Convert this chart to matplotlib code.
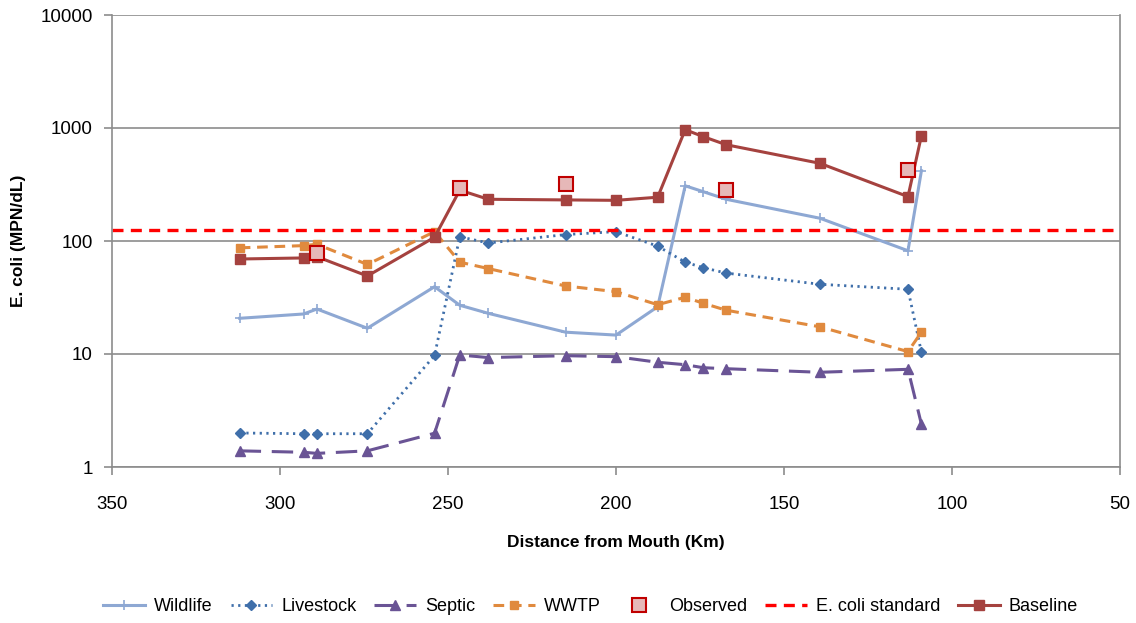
import matplotlib.pyplot as plt
from matplotlib.ticker import FixedLocator, NullLocator

# distance from mouth of each model node (km)
distance = [312, 293, 289, 274, 254, 246.5, 238, 215, 200, 187.6, 179.4, 174, 167.2, 139.3, 113.1, 109.1]

# E. coli by source (MPN/dL)
wildlife = [20.7, 22.6, 25.0, 16.9, 39.4, 27.0, 22.9, 15.6, 14.7, 26.2, 308, 273, 234, 159, 82, 419]
livestock = [2.0, 1.97, 1.97, 1.97, 9.7, 109, 96, 114, 121, 90, 65, 58, 52, 41.4, 37.4, 10.35]
septic = [1.39, 1.35, 1.32, 1.39, 1.99, 9.8, 9.3, 9.66, 9.47, 8.45, 8.04, 7.56, 7.41, 6.89, 7.32, 2.39]
wwtp = [87, 91, 93.5, 62, 121, 65, 57, 40, 35.6, 27.3, 31.8, 28.1, 24.4, 17.4, 10.5, 15.6]
baseline = [69.3, 70.8, 72.6, 49.0, 108, 282, 234, 231, 229, 244, 966, 838, 711, 487, 247, 855]

# observed samples
obs_distance = [289.1, 246.5, 215, 167.2, 113.1]
observed = [78, 296, 319, 281, 425]

ecoli_standard = 126

plt.rcParams['font.family'] = ['Liberation Sans', 'DejaVu Sans']

fig = plt.figure(figsize=(11.36, 6.23), dpi=100)
ax = fig.add_axes([112 / 1136, 1 - 467 / 623, 1008 / 1136, 452 / 623])

ax.plot(distance, wildlife, color='#8EA8D3', lw=2.2, marker='+', ms=7, mew=1.2, label='Wildlife')
ax.plot(distance, livestock, color='#3F6FAA', lw=2.0, ls=(0, (0.8, 1.6)), marker='D', ms=5,
        label='Livestock')
ax.plot(distance, septic, color='#6A5495', lw=2.2, ls=(0, (7, 3.5)), marker='^', ms=7, label='Septic')
ax.plot(distance, wwtp, color='#E08A3E', lw=2.2, ls=(0, (3.5, 2.2)), marker='s', ms=6, label='WWTP')
ax.plot(obs_distance, observed, ls='none', marker='s', ms=10, mfc='#E6B8B8', mec='#C00000', mew=1.5,
        label='Observed', zorder=5)
ax.axhline(ecoli_standard, color='#FF0000', lw=2.4, ls=(0, (3.3, 2.2)), label='E. coli standard')
ax.plot(distance, baseline, color='#A5423F', lw=2.2, marker='s', ms=7.5, label='Baseline')

ax.set_yscale('log')
ax.set_ylim(1, 10000)
ax.set_xlim(350, 50)
ax.yaxis.set_major_locator(FixedLocator([1, 10, 100, 1000, 10000]))
ax.yaxis.set_minor_locator(NullLocator())
ax.set_yticklabels(['1', '10', '100', '1000', '10000'])
ax.set_xticks([350, 300, 250, 200, 150, 100, 50])

ax.grid(axis='y', color='#8C8C8C', lw=1.2)
ax.set_axisbelow(True)
for side in ['left', 'bottom', 'right', 'top']:
    ax.spines[side].set_color('#8C8C8C')
    ax.spines[side].set_linewidth(1.2)
ax.spines['top'].set_visible(False)
ax.tick_params(axis='both', colors='#8C8C8C', labelcolor='black', labelsize=13.5, length=6, width=1.2)
ax.tick_params(axis='x', pad=15)
ax.tick_params(axis='y', pad=8)

ax.set_xlabel('Distance from Mouth (Km)', fontsize=12.5, fontweight='bold', labelpad=16)
ax.set_ylabel('E. coli (MPN/dL)', fontsize=12.5, fontweight='bold', labelpad=10)

fig.legend(loc='center', bbox_to_anchor=(0.52, 0.026), ncol=7, frameon=False, fontsize=13,
           handlelength=2.3, handletextpad=0.5, columnspacing=1.0)

plt.savefig('out.png', dpi=100)
